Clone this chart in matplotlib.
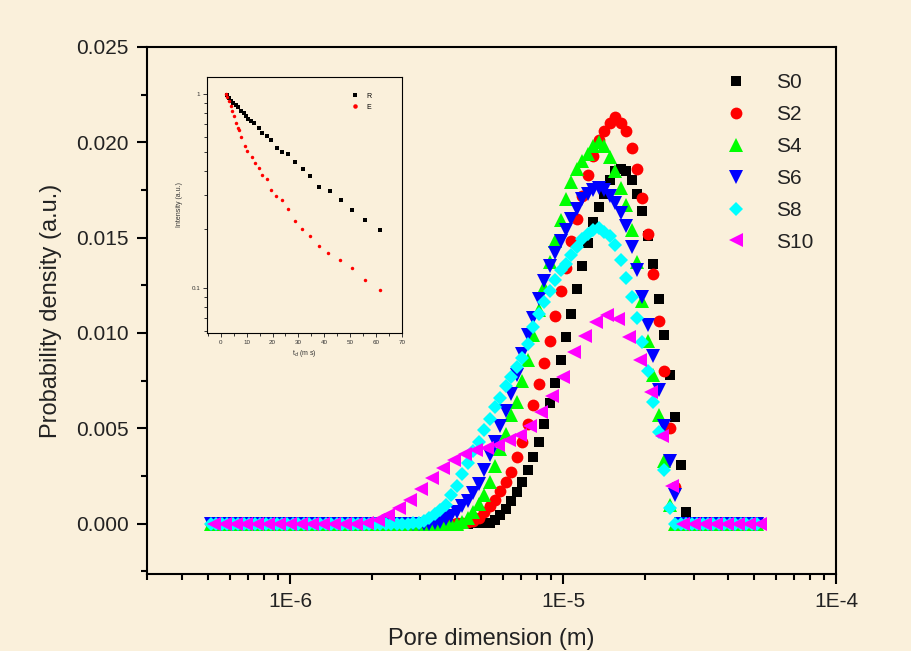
import numpy as np
import matplotlib
matplotlib.use("Agg")
import matplotlib.pyplot as plt
from matplotlib.ticker import FixedLocator, FuncFormatter, LogLocator, MultipleLocator, NullFormatter

plt.rcParams['font.family'] = ['Liberation Sans', 'DejaVu Sans']

# ---------------- data ----------------
# pore dimension grid (m), log-spaced as in the original instrument output
pore_dense = np.logspace(-6.29, -4.29, 101)   # S0..S8
pore_sparse = np.logspace(-6.28, -4.28, 51)   # S10

S0 = [
    0, 0, 0, 0, 0, 0, 0, 0, 0, 0, 0, 0, 0, 0, 0, 0, 0, 0, 0, 0,
    0, 0, 0, 0, 0, 0, 0, 0, 0, 0, 0, 0, 0, 0, 0, 0, 0, 0, 0, 0,
    0, 0, 0, 0, 0, 0, 0, 0,
    0.00001, 0.00002, 0.00003, 0.00005, 0.0002, 0.00047, 0.00077, 0.00117, 0.00164, 0.0022,
    0.0028, 0.0035, 0.0043, 0.0052, 0.0063, 0.0074, 0.0086, 0.0098, 0.0110, 0.0123,
    0.0135, 0.0147, 0.0158, 0.0166, 0.0173, 0.0180, 0.0185, 0.0186, 0.0185, 0.0180,
    0.0173, 0.0164, 0.0151, 0.0136, 0.0118, 0.0099, 0.0078, 0.0056, 0.0031, 0.0006,
    0, 0, 0, 0, 0, 0, 0, 0, 0, 0, 0, 0, 0]

S2 = [
    0, 0, 0, 0, 0, 0, 0, 0, 0, 0, 0, 0, 0, 0, 0, 0, 0, 0, 0, 0,
    0, 0, 0, 0, 0, 0, 0, 0, 0, 0, 0, 0, 0, 0, 0, 0, 0, 0, 0, 0,
    0, 0, 0, 0, 0,
    0.00001, 0.00003, 0.00007, 0.00015, 0.0003, 0.0006, 0.0009, 0.00126, 0.0017, 0.0022,
    0.0027, 0.0035, 0.0043, 0.0052, 0.0062, 0.0073, 0.0084, 0.0096, 0.0109, 0.0122,
    0.0134, 0.0148, 0.0160, 0.0172, 0.0183, 0.0193, 0.0201, 0.0206, 0.0210, 0.0213,
    0.0210, 0.0206, 0.0197, 0.0186, 0.0171, 0.0152, 0.0131, 0.0106, 0.0080, 0.0050,
    0.0019,
    0, 0, 0, 0, 0, 0, 0, 0, 0, 0, 0, 0, 0, 0, 0]

S4 = [
    0, 0, 0, 0, 0, 0, 0, 0, 0, 0, 0, 0, 0, 0, 0, 0, 0, 0, 0, 0,
    0, 0, 0, 0, 0, 0, 0, 0, 0, 0, 0, 0, 0, 0, 0, 0, 0, 0, 0, 0,
    0, 0, 0, 0, 0, 0,
    0.0001, 0.0003, 0.0006, 0.00105, 0.0015, 0.0022, 0.0030, 0.0039, 0.0047, 0.0057,
    0.0064, 0.0075, 0.0086, 0.0099, 0.0112, 0.0124, 0.0137, 0.0148, 0.0159, 0.0170,
    0.0179, 0.0186, 0.0190, 0.0194, 0.0198, 0.0200, 0.0198, 0.0192, 0.0185, 0.0176,
    0.0167, 0.0154, 0.0137, 0.0117, 0.0096, 0.0078, 0.0057, 0.0033, 0.0010,
    0, 0, 0, 0, 0, 0, 0, 0, 0, 0, 0, 0, 0, 0, 0, 0]

S6 = [
    0, 0, 0, 0, 0, 0, 0, 0, 0, 0, 0, 0, 0, 0, 0, 0, 0, 0, 0, 0,
    0, 0, 0, 0, 0, 0, 0, 0, 0, 0, 0, 0, 0, 0, 0, 0, 0, 0, 0, 0,
    0,
    0.00002, 0.0001, 0.00022, 0.0004, 0.00062, 0.0009, 0.0012, 0.0016, 0.0021, 0.0028,
    0.0036, 0.0043, 0.0051, 0.0059, 0.0068, 0.0078, 0.0089, 0.0099, 0.0108, 0.0118,
    0.0127, 0.0135, 0.0142, 0.0148, 0.0154, 0.0160, 0.0165, 0.0170, 0.0173, 0.0175,
    0.0176, 0.0175, 0.0172, 0.0168, 0.0163, 0.0156, 0.0145, 0.0133, 0.0119, 0.0104,
    0.0088, 0.0070, 0.0051, 0.0033, 0.0015,
    0, 0, 0, 0, 0, 0, 0, 0, 0, 0, 0, 0, 0, 0, 0]

S8 = [
    0, 0, 0, 0, 0, 0, 0, 0, 0, 0, 0, 0, 0, 0, 0, 0, 0, 0, 0, 0,
    0, 0, 0, 0, 0, 0, 0, 0, 0, 0, 0, 0, 0, 0, 0, 0, 0,
    0.00002, 0.00005, 0.00015, 0.0003, 0.0005, 0.0007, 0.0010, 0.0015, 0.0020, 0.0026,
    0.0032, 0.0038, 0.0043, 0.0049, 0.0055, 0.0061, 0.0066, 0.0072, 0.0077, 0.0082,
    0.0087, 0.0094, 0.0103, 0.0110, 0.0116, 0.0122, 0.0128, 0.0133, 0.0136, 0.0141,
    0.0145, 0.0149, 0.0152, 0.0154, 0.0155, 0.0153, 0.0151, 0.0146, 0.0138, 0.0129,
    0.0119, 0.0108, 0.0095, 0.0080, 0.0064, 0.0048, 0.0028, 0.0008,
    0, 0, 0, 0, 0, 0, 0, 0, 0, 0, 0, 0, 0, 0, 0, 0]

S10 = [
    0, 0, 0, 0, 0, 0, 0, 0, 0, 0, 0, 0, 0, 0,
    0.00003, 0.00018, 0.00047, 0.00084, 0.00126, 0.00183, 0.00241, 0.00291, 0.00335, 0.00367,
    0.00385, 0.00398, 0.00411, 0.0044, 0.00466, 0.00514, 0.00587, 0.0067, 0.0077, 0.0090,
    0.00985, 0.01059, 0.01095, 0.01074, 0.0098, 0.0086, 0.0069, 0.0046, 0.0020,
    0, 0, 0, 0, 0, 0, 0, 0]

series_labels = ['S0', 'S2', 'S4', 'S6', 'S8', 'S10']
x_tick_values = [1e-6, 1e-5, 1e-4]
x_tick_labels = ['1E-6', '1E-5', '1E-4']
y_tick_values = [0.000, 0.005, 0.010, 0.015, 0.020, 0.025]

# inset: decay curves
R_t = [2.3, 3.2, 4.1, 4.9, 5.8, 6.7, 7.8, 8.8, 9.7, 10.6, 11.6, 12.9, 14.9, 16.1,
       17.8, 19.4, 21.7, 23.5, 26.1, 28.7, 31.7, 34.5, 38.1, 42.0, 46.3, 50.6, 55.7, 61.5]
R_I = [0.989, 0.951, 0.914, 0.895, 0.877, 0.851, 0.820, 0.796, 0.764, 0.741, 0.721, 0.706,
       0.665, 0.628, 0.603, 0.575, 0.525, 0.499, 0.490, 0.444, 0.411, 0.378, 0.331, 0.317,
       0.285, 0.253, 0.225, 0.198]
E_t = [1.9, 2.6, 3.2, 3.9, 4.5, 5.2, 5.8, 6.5, 7.1, 8.0, 9.4, 10.3, 12.0, 13.3, 14.6,
       16.1, 17.8, 19.4, 21.4, 23.5, 25.8, 28.7, 31.4, 34.5, 38.1, 41.6, 46.1, 50.6, 55.7, 61.4]
E_I = [1.0, 0.968, 0.914, 0.861, 0.811, 0.764, 0.706, 0.665, 0.653, 0.598, 0.540, 0.505,
       0.472, 0.440, 0.413, 0.381, 0.366, 0.321, 0.299, 0.285, 0.255, 0.222, 0.201, 0.185,
       0.165, 0.151, 0.139, 0.126, 0.110, 0.098]

# ---------------- figure ----------------
bg = '#FAF0DB'
fig = plt.figure(figsize=(9.12, 6.51), dpi=100, facecolor=bg)
ax = fig.add_axes([0.161, 0.118, 0.756, 0.810])
ax.set_facecolor(bg)

styles = [
    dict(marker='s', color='black', ms=7.5),
    dict(marker='o', color='red', ms=8.5),
    dict(marker='^', color='#00FF00', ms=9.5),
    dict(marker='v', color='#0000FF', ms=9.5),
    dict(marker='D', color='cyan', ms=7.5),
    dict(marker='<', color='#FF00FF', ms=9.5),
]
ys = [S0, S2, S4, S6, S8, S10]
xs = [pore_dense] * 5 + [pore_sparse]
for x, y, lab, st in zip(xs, ys, series_labels, styles):
    ax.plot(x, y, linestyle='none', marker=st['marker'], color=st['color'],
            markersize=st['ms'], markeredgewidth=0, label=lab)

ax.set_xscale('log')
ax.set_xlim(10 ** -6.525, 1e-4)
ax.set_ylim(-0.00265, 0.025)
ax.xaxis.set_major_locator(FixedLocator(x_tick_values))
ax.xaxis.set_major_formatter(FuncFormatter(lambda v, p: dict(zip(x_tick_values, x_tick_labels)).get(v, '')))
ax.xaxis.set_minor_locator(LogLocator(base=10, subs=np.arange(2, 10)))
ax.xaxis.set_minor_formatter(NullFormatter())
ax.yaxis.set_major_locator(FixedLocator(y_tick_values))
ax.yaxis.set_major_formatter(FuncFormatter(lambda v, p: f'{v:.3f}'))
ax.yaxis.set_minor_locator(MultipleLocator(0.0025))

for s in ax.spines.values():
    s.set_linewidth(1.5)
ax.tick_params(which='both', direction='out', top=False, right=False, width=1.5, colors='black')
ax.tick_params(which='major', length=7, labelsize=15, pad=6, labelcolor='#222222')
ax.tick_params(which='minor', length=4)

ax.set_xlabel('Pore dimension (m)', fontsize=17, color='#222222', labelpad=12)
ax.set_ylabel('Probability density (a.u.)', fontsize=17, color='#222222', labelpad=10)

leg = ax.legend(loc='upper left', bbox_to_anchor=(0.828, 0.966), frameon=False,
                fontsize=15, handlelength=1.0, handletextpad=1.4, labelspacing=0.62,
                borderaxespad=0)
for t in leg.get_texts():
    t.set_color('#222222')

# ---------------- inset ----------------
ax_in = fig.add_axes([0.227, 0.4885, 0.2138, 0.3932])
ax_in.set_facecolor(bg)
ax_in.plot(R_t, R_I, linestyle='none', marker='s', color='black', markersize=2.5,
           markeredgewidth=0, label='R')
ax_in.plot(E_t, E_I, linestyle='none', marker='o', color='red', markersize=2.5,
           markeredgewidth=0, label='E')
ax_in.set_yscale('log')
ax_in.set_xlim(-5.3, 70)
ax_in.set_ylim(0.0586, 1.22)
ax_in.xaxis.set_major_locator(MultipleLocator(10))
ax_in.xaxis.set_minor_locator(MultipleLocator(5))
ax_in.yaxis.set_major_locator(FixedLocator([0.1, 1.0]))
ax_in.yaxis.set_major_formatter(FuncFormatter(lambda v, p: {0.1: '0.1', 1.0: '1'}.get(round(v, 3), '')))
ax_in.yaxis.set_minor_locator(LogLocator(base=10, subs=np.arange(2, 10)))
ax_in.yaxis.set_minor_formatter(NullFormatter())
for s in ax_in.spines.values():
    s.set_linewidth(0.8)
ax_in.tick_params(which='both', direction='out', top=False, right=False, width=0.7,
                  labelsize=4.5, pad=2, colors='#333333')
ax_in.tick_params(which='major', length=3)
ax_in.tick_params(which='minor', length=2)
ax_in.set_xlabel('t$_d$ (m s)', fontsize=5, labelpad=2, color='#333333')
ax_in.set_ylabel('Intensity (a.u.)', fontsize=5, labelpad=6, color='#333333')
ax_in.legend(loc='upper right', bbox_to_anchor=(0.86, 0.95), frameon=False, fontsize=5,
             handlelength=1.0, handletextpad=1.2, labelspacing=0.6, borderaxespad=0,
             markerscale=1.3)

fig.savefig('out.png', dpi=100, facecolor=bg)
